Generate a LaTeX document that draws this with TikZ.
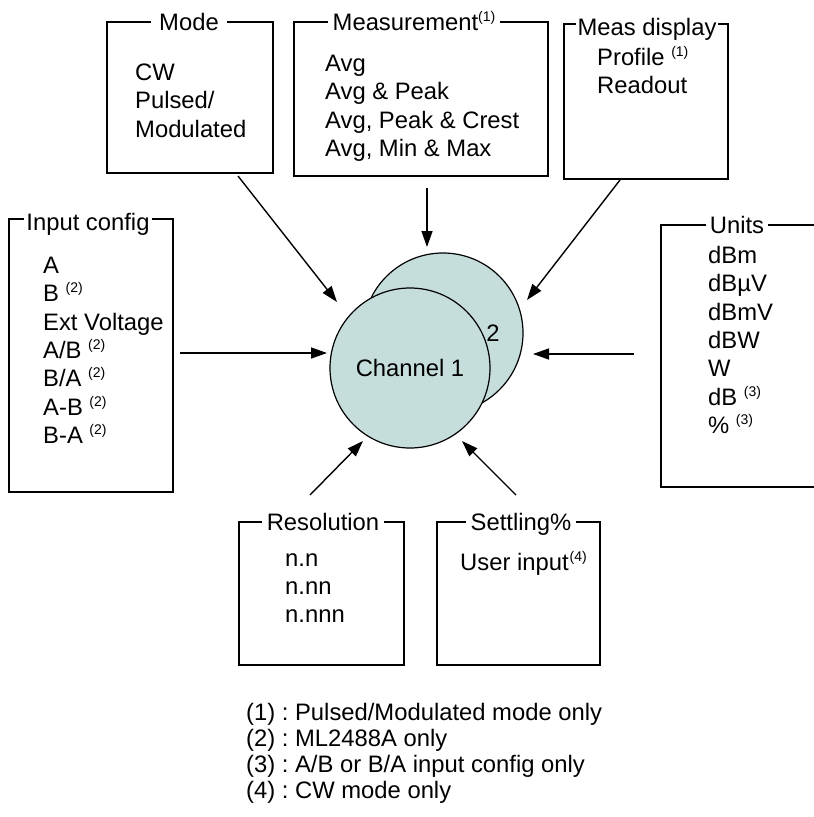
\documentclass[tikz,border=0pt]{standalone}
\usepackage{fontspec}
\setmainfont{Liberation Sans}
\usetikzlibrary{arrows.meta}
\definecolor{chanfill}{RGB}{197,222,220}
\newcommand{\fnref}[1]{\raisebox{9pt}{\fontsize{14}{14}\selectfont(#1)}}
\frenchspacing

\begin{document}
\begin{tikzpicture}[x=1pt,y=-1pt,
	node font=\fontsize{23.8}{28.3}\selectfont,
	group/.style={draw,line width=1.4pt,inner sep=0pt},
	title/.style={fill=white,inner xsep=5pt,inner ysep=0pt,text height=17pt,text depth=0pt},
	item/.style={anchor=base west,inner sep=0pt},
	channel/.style={circle,draw,line width=1.2pt,fill=chanfill,minimum size=160pt,inner sep=0pt},
	feed/.style={line width=1.4pt,-{Triangle[length=16pt,width=11pt]}}]
	\useasboundingbox (0,0) rectangle (814,817);
	% settings boxes
	\node[group,minimum width=166pt,minimum height=151pt] (mode) at (190,97.5) {};
	\node[group,minimum width=254pt,minimum height=154pt] (meas) at (421,99) {};
	\node[group,minimum width=164pt,minimum height=155pt] (disp) at (646,101.5) {};
	\node[group,minimum width=164pt,minimum height=273pt] (input) at (91,355.5) {};
	\node[group,minimum width=300pt,minimum height=262pt] (units) at (811,356) {};
	\node[group,minimum width=165pt,minimum height=143pt] (res) at (321.5,593.5) {};
	\node[group,minimum width=163pt,minimum height=143pt] (settle) at (518.5,593.5) {};
	% titles
	\node[title,inner xsep=8pt] (mode-t) at (189,22) {Mode};
	\node[title] (meas-t) at (414,22) {Measurement\fnref{1}};
	\node[title,inner xsep=2pt] (disp-t) at (647,27) {Meas display};
	\node[title,inner xsep=2pt] (input-t) at (88,222) {Input config};
	\node[title,inner xsep=4pt] (units-t) at (737,225) {Units};
	\node[title] (res-t) at (323,522) {Resolution};
	\node[title] (settle-t) at (521,522) {Settling\%};
	% entries
	\foreach \txt [count=\i from 0] in {CW, Pulsed/, Modulated}
		\node[item] (mode-\i) at (135,80.5+28.3*\i) {\txt};
	\foreach \txt [count=\i from 0] in {Avg, Avg \& Peak, {Avg, Peak \& Crest}, {Avg, Min \& Max}}
		\node[item] (meas-\i) at (325,71.5+28.3*\i) {\txt};
	\foreach \txt [count=\i from 0] in {Profile \fnref{1}, Readout}
		\node[item] (disp-\i) at (597,65.5+28.3*\i) {\txt};
	\foreach \txt [count=\i from 0] in {A, B \fnref{2}, Ext Voltage, A/B \fnref{2}, B/A \fnref{2}, A-B \fnref{2}, B-A \fnref{2}}
		\node[item] (input-\i) at (43,273.5+28.3*\i) {\txt};
	\foreach \txt [count=\i from 0] in {dBm, dBµV, dBmV, dBW, W, dB \fnref{3}, \% \fnref{3}}
		\node[item] (units-\i) at (708,263.5+28.3*\i) {\txt};
	\foreach \txt [count=\i from 0] in {n.n, n.nn, n.nnn}
		\node[item] (res-\i) at (285,566+28.3*\i) {\txt};
	\node[item] (settle-0) at (460,570.5) {User input\kern1pt\fnref{4}};
	% channels
	\node[channel] (ch2) at (443,333) {};
	\node[channel] (ch1) at (410,368) {Channel 1};
	\node (ch2-lab) at (493,333) {2};
	% arrows
	\coordinate (mode-out) at (238,176);  \coordinate (mode-in) at (337,302);
	\coordinate (meas-out) at (427,188);  \coordinate (meas-in) at (427,247);
	\coordinate (disp-out) at (620,180);  \coordinate (disp-in) at (527,300);
	\coordinate (input-out) at (180,353); \coordinate (input-in) at (327,353);
	\coordinate (units-out) at (634,354); \coordinate (units-in) at (533,354);
	\coordinate (res-out) at (310,495);   \coordinate (res-in) at (363,441);
	\coordinate (settle-out) at (516,495); \coordinate (settle-in) at (462,441);
	\foreach \s in {mode,meas,disp,input,units,res,settle}
		\draw[feed] (\s-out) -- (\s-in);
	% notes
	\foreach \txt [count=\i from 0] in {{(1) : Pulsed/Modulated mode only}, {(2) : ML2488A only}, {(3) : A/B or B/A input config only}, {(4) : CW mode only}}
		\node[item] (note-\i) at (246,720+26*\i) {\txt};
\end{tikzpicture}
\end{document}
